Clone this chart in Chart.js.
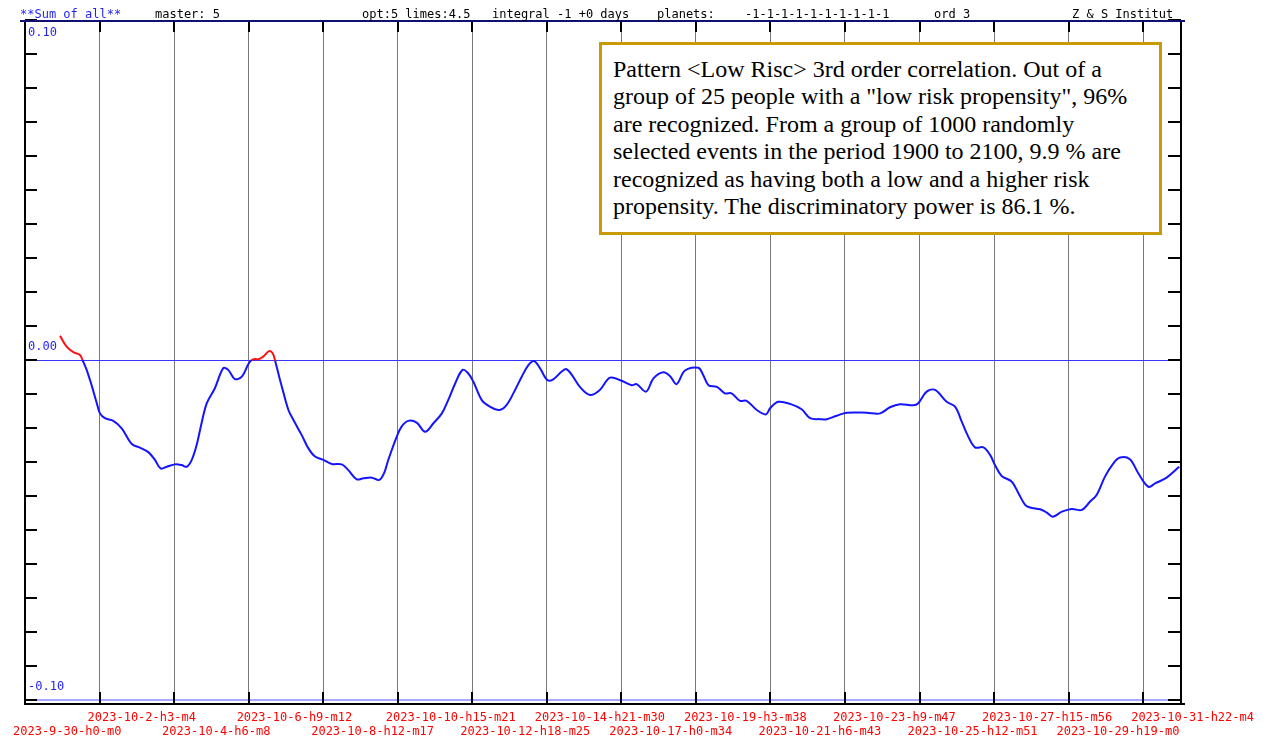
<!DOCTYPE html>
<html>
<head>
<meta charset="utf-8">
<title>Sum of all</title>
<script src="https://cdn.jsdelivr.net/npm/chart.js@4.4.0/dist/chart.umd.min.js"></script>
<style>
  html, body { margin: 0; padding: 0; background: #fff; }
  #wrap { position: relative; width: 1267px; height: 740px; overflow: hidden; }
  #chart { position: absolute; left: 0; top: 0; }
  .hdr { position: absolute; top: 6px; font: 12px 'DejaVu Sans Mono', monospace; line-height: 16px; color: #000; white-space: pre; }
  #note {
    position: absolute; left: 599px; top: 42px; width: 557px; height: 187px;
    border: 3px solid #c99a06; background: #fff; box-sizing: content-box;
    padding: 0; font: 24px 'Liberation Serif', 'Times New Roman', serif; line-height: 27.4px; color: #000;
  }
  #note div { position: absolute; left: 11px; top: 11px; white-space: nowrap; }
</style>
</head>
<body>
<div id="wrap">
  <canvas id="chart" width="1267" height="740"></canvas>
  <span class="hdr" style="left:20px;color:#1f1fff">**Sum of all**</span>
  <span class="hdr" style="left:155px">master: 5</span>
  <span class="hdr" style="left:362px">opt:5 limes:4.5</span>
  <span class="hdr" style="left:492px">integral -1 +0 days</span>
  <span class="hdr" style="left:657px">planets:</span>
  <span class="hdr" style="left:745px">-1-1-1-1-1-1-1-1-1-1</span>
  <span class="hdr" style="left:934px">ord 3</span>
  <span class="hdr" style="left:1072px">Z &amp; S Institut</span>
  <div id="note"><div>Pattern &lt;Low Risc&gt; 3rd order correlation. Out of a<br>group of 25 people with a "low risk propensity", 96%<br>are recognized. From a group of 1000 randomly<br>selected events in the period 1900 to 2100, 9.9 % are<br>recognized as having both a low and a higher risk<br>propensity. The discriminatory power is 86.1 %.</div></div>
</div>
<script>
// ==========================================
// Data (days since 2023-9-30 h0 m0)
// ==========================================

const dayValues = [
  1.00, 1.19, 1.38, 1.57, 1.64, 1.76, 1.90, 2.05, 2.14, 2.28,
  2.52, 2.76, 3.05, 3.28, 3.52, 3.71, 3.87, 4.05, 4.28, 4.47,
  4.62, 4.76, 4.90, 5.04, 5.19, 5.42, 5.66, 5.80, 5.99, 6.19,
  6.37, 6.47, 6.57, 6.66, 6.80, 6.97, 7.07, 7.14, 7.28, 7.37,
  7.52, 7.66, 7.90, 8.09, 8.28, 8.52, 8.76, 9.04, 9.23, 9.47,
  9.66, 9.90, 10.11, 10.25, 10.37, 10.61, 10.75, 10.94, 11.18, 11.42,
  11.66, 11.90, 12.08, 12.28, 12.49, 12.65, 12.80, 13.04, 13.27, 13.54,
  13.75, 13.99, 14.18, 14.37, 14.53, 14.70, 14.91, 15.08, 15.32, 15.46,
  15.61, 15.84, 16.13, 16.41, 16.70, 17.03, 17.32, 17.46, 17.73, 17.94,
  18.22, 18.41, 18.60, 18.84, 19.22, 19.36, 19.51, 19.75, 19.98, 20.17,
  20.41, 20.60, 20.89, 21.15, 21.27, 21.50, 21.84, 22.17, 22.41, 22.69,
  22.89, 23.17, 23.46, 24.03, 24.41, 24.69, 24.98, 25.36, 25.50, 25.74,
  25.98, 26.31, 26.55, 26.74, 26.93, 27.12, 27.36, 27.55, 27.69, 27.88,
  28.17, 28.36, 28.55, 28.69, 28.98, 29.17, 29.34, 29.60, 29.88, 30.17,
  30.40, 30.59, 30.83, 31.07, 31.26, 31.54, 31.78, 32.07, 32.26, 32.59,
  32.95
];

const sumValues = [
  0.0071, 0.0039, 0.0023, 0.0015, 0.0000, -0.0029, -0.0074, -0.0127, -0.0157, -0.0171,
  -0.0179, -0.0201, -0.0247, -0.0258, -0.0271, -0.0294, -0.0319, -0.0314, -0.0307, -0.0309,
  -0.0314, -0.0294, -0.0250, -0.0186, -0.0127, -0.0083, -0.0024, -0.0029, -0.0056, -0.0049,
  -0.0013, 0.0000, 0.0003, 0.0002, 0.0010, 0.0026, 0.0020, -0.0002, -0.0059, -0.0093,
  -0.0147, -0.0176, -0.0221, -0.0260, -0.0284, -0.0294, -0.0306, -0.0307, -0.0324, -0.0351,
  -0.0348, -0.0346, -0.0353, -0.0333, -0.0294, -0.0226, -0.0196, -0.0179, -0.0184, -0.0211,
  -0.0186, -0.0157, -0.0118, -0.0069, -0.0029, -0.0039, -0.0064, -0.0118, -0.0137, -0.0147,
  -0.0132, -0.0088, -0.0049, -0.0015, -0.0003, -0.0024, -0.0059, -0.0057, -0.0034, -0.0027,
  -0.0044, -0.0079, -0.0103, -0.0088, -0.0052, -0.0061, -0.0074, -0.0071, -0.0093, -0.0054,
  -0.0036, -0.0047, -0.0071, -0.0031, -0.0023, -0.0044, -0.0074, -0.0079, -0.0098, -0.0098,
  -0.0120, -0.0120, -0.0147, -0.0160, -0.0142, -0.0123, -0.0129, -0.0145, -0.0171, -0.0174,
  -0.0174, -0.0164, -0.0155, -0.0155, -0.0157, -0.0139, -0.0130, -0.0133, -0.0127, -0.0093,
  -0.0088, -0.0123, -0.0137, -0.0181, -0.0226, -0.0257, -0.0257, -0.0279, -0.0309, -0.0341,
  -0.0358, -0.0392, -0.0426, -0.0434, -0.0439, -0.0449, -0.0461, -0.0446, -0.0438, -0.0441,
  -0.0417, -0.0397, -0.0343, -0.0304, -0.0287, -0.0292, -0.0333, -0.0373, -0.0363, -0.0346,
  -0.0314
];

// vertical grid positions (days) and their labels
const gridDays = [0, 2.128, 4.256, 6.384, 8.512, 10.640, 12.768, 14.896,
  17.024, 19.152, 21.280, 23.408, 25.536, 27.664, 29.792, 31.920];

const xTickLabels = [
  '2023-9-30-h0-m0', '2023-10-2-h3-m4', '2023-10-4-h6-m8', '2023-10-6-h9-m12',
  '2023-10-8-h12-m17', '2023-10-10-h15-m21', '2023-10-12-h18-m25', '2023-10-14-h21-m30',
  '2023-10-17-h0-m34', '2023-10-19-h3-m38', '2023-10-21-h6-m43', '2023-10-23-h9-m47',
  '2023-10-25-h12-m51', '2023-10-27-h15-m56', '2023-10-29-h19-m0', '2023-10-31-h22-m4'
];

const yTickValues = [0.10, 0.09, 0.08, 0.07, 0.06, 0.05, 0.04, 0.03, 0.02, 0.01, 0.00,
  -0.01, -0.02, -0.03, -0.04, -0.05, -0.06, -0.07, -0.08, -0.09, -0.10];
const yLabelValues = [0.10, 0.00, -0.10];
const yLabelTexts = ['0.10', '0.00', '-0.10'];

// ==========================================
// Colours
// ==========================================

const LINE_BLUE = '#1414ff';
const LINE_RED = '#ff1010';
const MONO = "12px 'DejaVu Sans Mono', monospace";

// frame, side ticks, gridline stubs and y labels
const framePlugin = {
    id: 'frame',
    afterDraw: function(chart) {
        const ctx = chart.ctx;
        const area = chart.chartArea;
        const xs = chart.scales.x;
        const ys = chart.scales.y;

        ctx.save();
        ctx.strokeStyle = '#000';
        ctx.lineWidth = 2;

        // gridline stubs top and bottom
        gridDays.slice(1).forEach(d => {
            const x = Math.round(xs.getPixelForValue(d));
            ctx.beginPath();
            ctx.moveTo(x, area.top);
            ctx.lineTo(x, area.top + 12);
            ctx.moveTo(x, area.bottom - 8);
            ctx.lineTo(x, area.bottom + 4);
            ctx.stroke();
        });

        // side ticks
        yTickValues.forEach(v => {
            const y = Math.round(ys.getPixelForValue(v));
            ctx.beginPath();
            ctx.moveTo(area.left, y);
            ctx.lineTo(area.left + 12, y);
            ctx.moveTo(area.right - 13, y);
            ctx.lineTo(area.right, y);
            ctx.stroke();
        });

        // left, right and bottom frame
        ctx.beginPath();
        ctx.moveTo(area.left, area.top);
        ctx.lineTo(area.left, area.bottom + 5);
        ctx.moveTo(area.right, area.top);
        ctx.lineTo(area.right, area.bottom + 5);
        ctx.moveTo(area.left - 1, area.bottom + 4);
        ctx.lineTo(area.right + 4, area.bottom + 4);
        ctx.stroke();

        // top line
        ctx.strokeStyle = '#101070';
        ctx.beginPath();
        ctx.moveTo(area.left - 5, area.top + 1);
        ctx.lineTo(area.right + 4, area.top + 1);
        ctx.stroke();

        // y labels inside the plot
        ctx.font = MONO;
        ctx.fillStyle = '#1f1fff';
        ctx.textAlign = 'left';
        ctx.textBaseline = 'middle';
        yLabelValues.forEach((v, i) => {
            const y = ys.getPixelForValue(v);
            const off = v >= 0.1 ? 13 : -13;
            ctx.fillText(yLabelTexts[i], area.left + 3, y + off);
        });
        ctx.restore();
    }
};

new Chart(document.getElementById('chart'), {
    type: 'line',
    data: {
        datasets: [{
            data: dayValues.map((d, i) => ({ x: d, y: sumValues[i] })),
            borderColor: LINE_BLUE,
            borderWidth: 2,
            pointRadius: 0,
            tension: 0.35,
            segment: {
                borderColor: c => (c.p0.parsed.y > 0 || c.p1.parsed.y > 0) ? LINE_RED : LINE_BLUE
            }
        }]
    },
    options: {
        responsive: false,
        animation: false,
        layout: { padding: { top: 20, left: 25, right: 86, bottom: 1 } },
        plugins: { legend: { display: false }, tooltip: { enabled: false } },
        scales: {
            x: {
                type: 'linear',
                min: 0,
                max: 33,
                afterBuildTicks: s => { s.ticks = gridDays.map(v => ({ value: v })); },
                afterFit: s => { s.paddingLeft = 0; s.paddingRight = 0; s.height = 39; },
                grid: { color: '#7a7a7a', lineWidth: 1, drawTicks: false },
                border: { display: false },
                ticks: {
                    autoSkip: false,
                    maxRotation: 0,
                    minRotation: 0,
                    align: 'start',
                    labelOffset: -12,
                    padding: 11,
                    color: '#ff0000',
                    font: { family: "'DejaVu Sans Mono', monospace", size: 12, lineHeight: 1.1667 },
                    callback: (value, index) => index % 2 === 0 ? ['', xTickLabels[index]] : xTickLabels[index]
                }
            },
            y: {
                type: 'linear',
                min: -0.10,
                max: 0.10,
                afterFit: s => { s.width = 0; },
                grid: {
                    drawTicks: false,
                    color: c => Math.abs(c.tick.value) < 1e-6 ? '#3636ff'
                        : (Math.abs(c.tick.value + 0.1) < 1e-6 ? '#a8a8ff' : 'rgba(0,0,0,0)'),
                    lineWidth: c => Math.abs(c.tick.value + 0.1) < 1e-6 ? 2 : 1
                },
                border: { display: false },
                ticks: { display: false, stepSize: 0.01 }
            }
        }
    },
    plugins: [framePlugin]
});
</script>
</body>
</html>
